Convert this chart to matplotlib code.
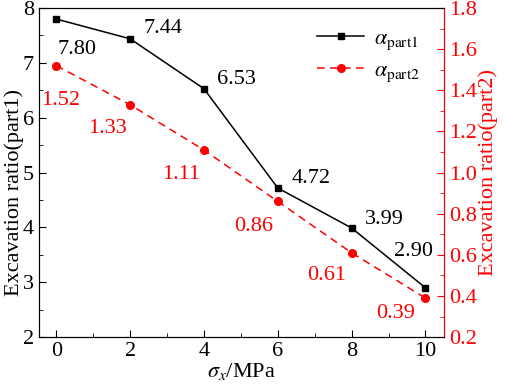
import matplotlib.pyplot as plt
import numpy as np
from matplotlib.ticker import MultipleLocator

plt.rcParams['font.family'] = ['Liberation Serif', 'DejaVu Serif']
plt.rcParams['mathtext.fontset'] = 'stix'
plt.rcParams['font.size'] = 16

sigma = [0, 2, 4, 6, 8, 10]
part1 = [7.80, 7.44, 6.53, 4.72, 3.99, 2.90]
part2 = [1.52, 1.33, 1.11, 0.86, 0.61, 0.39]

# label offsets in pixels (dx right, dy down) from each point
off1 = [(21, 30), (33, -10), (33, -9), (33, -9), (33, -9), (-12, -36)]
off2 = [(4, 35), (-23, 24), (-23, 25), (-24, 25), (-25, 23), (-30, 15)]

fig = plt.figure(figsize=(5.05, 3.84), dpi=100)
ax = fig.add_axes([0.077, 0.122, 0.802, 0.857])
ax2 = ax.twinx()

l1, = ax.plot(sigma, part1, color='black', marker='s', markersize=4.5, lw=1.1,
              label=r'$\alpha_{\rm part1}$')
l2, = ax2.plot(sigma, part2, color='red', marker='o', markersize=5.5, lw=1.1,
               linestyle=(0, (5, 3.5)), label=r'$\alpha_{\rm part2}$')

for x, y, (dx, dy) in zip(sigma, part1, off1):
    ax.annotate(f'{y:.2f}', (x, y), xytext=(dx * 0.72, -dy * 0.72),
                textcoords='offset points', ha='center', va='center',
                color='black', fontsize=16)
for x, y, (dx, dy) in zip(sigma, part2, off2):
    ax2.annotate(f'{y:.2f}', (x, y), xytext=(dx * 0.72, -dy * 0.72),
                 textcoords='offset points', ha='center', va='center',
                 color='red', fontsize=16)

ax.set_xlim(-0.47, 10.5)
ax.set_ylim(2, 8)
ax2.set_ylim(0.2, 1.8)
ax.xaxis.set_major_locator(MultipleLocator(2))
ax.xaxis.set_minor_locator(MultipleLocator(1))
ax.yaxis.set_major_locator(MultipleLocator(1))
ax.yaxis.set_minor_locator(MultipleLocator(0.5))
ax2.yaxis.set_major_locator(MultipleLocator(0.2))
ax2.yaxis.set_minor_locator(MultipleLocator(0.1))
ax2.yaxis.set_major_formatter(plt.FuncFormatter(lambda v, p: f'{v:.1f}'))

ax.tick_params(which='both', direction='in', top=False, labelsize=16)
ax.tick_params(which='major', length=5)
ax.tick_params(which='minor', length=3)
ax2.tick_params(which='both', direction='in', colors='red', labelsize=16)
ax2.tick_params(which='major', length=5)
ax2.tick_params(which='minor', length=3)
ax2.spines['right'].set_color('red')

ax.set_xlabel(r'$\sigma_x$/MPa', labelpad=0, fontsize=16)
ax.set_ylabel('Excavation ratio(part1)', fontsize=16, va='center')
ax.yaxis.set_label_coords(-0.062, 0.44)
ax2.set_ylabel('Excavation ratio(part2)', color='red', fontsize=16, va='center')
ax2.yaxis.set_label_coords(1.11, 0.5)

ax.legend([l1, l2], [l1.get_label(), l2.get_label()], loc='upper right',
          bbox_to_anchor=(0.99, 1.0), frameon=False, handlelength=2.1,
          handletextpad=0.45, labelspacing=0.4, fontsize=16)

fig.savefig('out.png', dpi=100)
